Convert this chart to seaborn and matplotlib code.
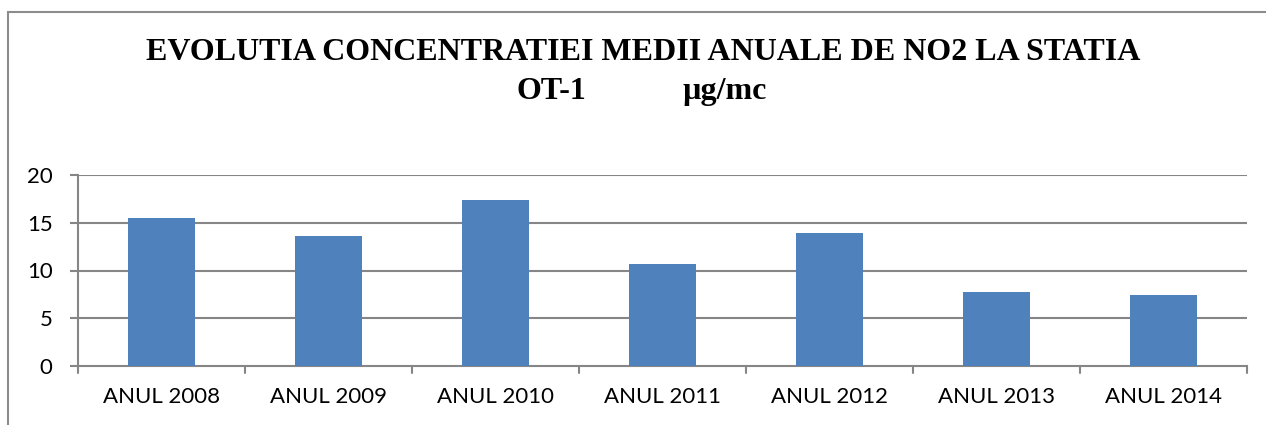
import matplotlib
matplotlib.use("Agg")
import matplotlib.pyplot as plt
import seaborn as sns
import pandas as pd
from matplotlib.patches import Rectangle

categories = ["ANUL 2008", "ANUL 2009", "ANUL 2010", "ANUL 2011", "ANUL 2012", "ANUL 2013", "ANUL 2014"]
values = [15.5, 13.6, 17.4, 10.7, 13.9, 7.8, 7.4]
yticks = [0, 5, 10, 15, 20]
title_line1 = "EVOLUTIA CONCENTRATIEI MEDII ANUALE DE NO2 LA STATIA"
title_station = "OT-1"
title_unit = "µg/mc"

sns.set_style("white")
plt.rcParams['font.family'] = ['Lato', 'DejaVu Sans']

W, H = 1266, 425
fig = plt.figure(figsize=(W / 100, H / 100), dpi=100)
ax = fig.add_axes([77.7 / W, 1 - 366 / H, (1246.7 - 77.7) / W, (366 - 175) / H])

df = pd.DataFrame({"cat": categories, "val": values})
sns.barplot(data=df, x="cat", y="val", color="#4F81BD", width=0.4, saturation=1, ax=ax,
            zorder=3, linewidth=0)

grid_c = "#868686"
ax.set_ylim(0, 20)
ax.set_xlim(-0.5, len(categories) - 0.5)
ax.set_yticks(yticks)
ax.set_yticklabels([str(t) for t in yticks], fontsize=16, color="black")
for t in yticks[1:]:
    ax.axhline(t, color=grid_c, lw=1.5, zorder=1)
ax.set_xticks(range(len(categories)))
ax.set_xticklabels(categories, fontsize=16, color="black")
ax.tick_params(axis="x", length=0, pad=15)
ax.tick_params(axis="y", length=6, width=1.5, color=grid_c, pad=12, left=True)
for b in [i - 0.5 for i in range(len(categories) + 1)]:
    ax.plot([b, b], [0, -0.75], color=grid_c, lw=1.5, clip_on=False, zorder=4)
ax.set_xlabel("")
ax.set_ylabel("")
for s in ["top", "right"]:
    ax.spines[s].set_visible(False)
for s in ["left", "bottom"]:
    ax.spines[s].set_color(grid_c)
    ax.spines[s].set_linewidth(1.5)

serif = ['Liberation Serif', 'DejaVu Serif']
tkw = dict(ha="center", va="baseline", fontsize=23, fontweight="bold", family=serif, color="black")
fig.text(643 / W, 1 - 60 / H, title_line1, **tkw)
fig.text(551 / W, 1 - 99 / H, title_station, **tkw)
fig.text(725 / W, 1 - 99 / H, title_unit, **tkw)

fig.patches.append(Rectangle((8 / W, -0.1), 1.2, 1 - 12 / H + 0.1, transform=fig.transFigure,
                             fill=False, edgecolor="#8c8c8c", lw=1.5))

fig.savefig("out.png", dpi=100)
